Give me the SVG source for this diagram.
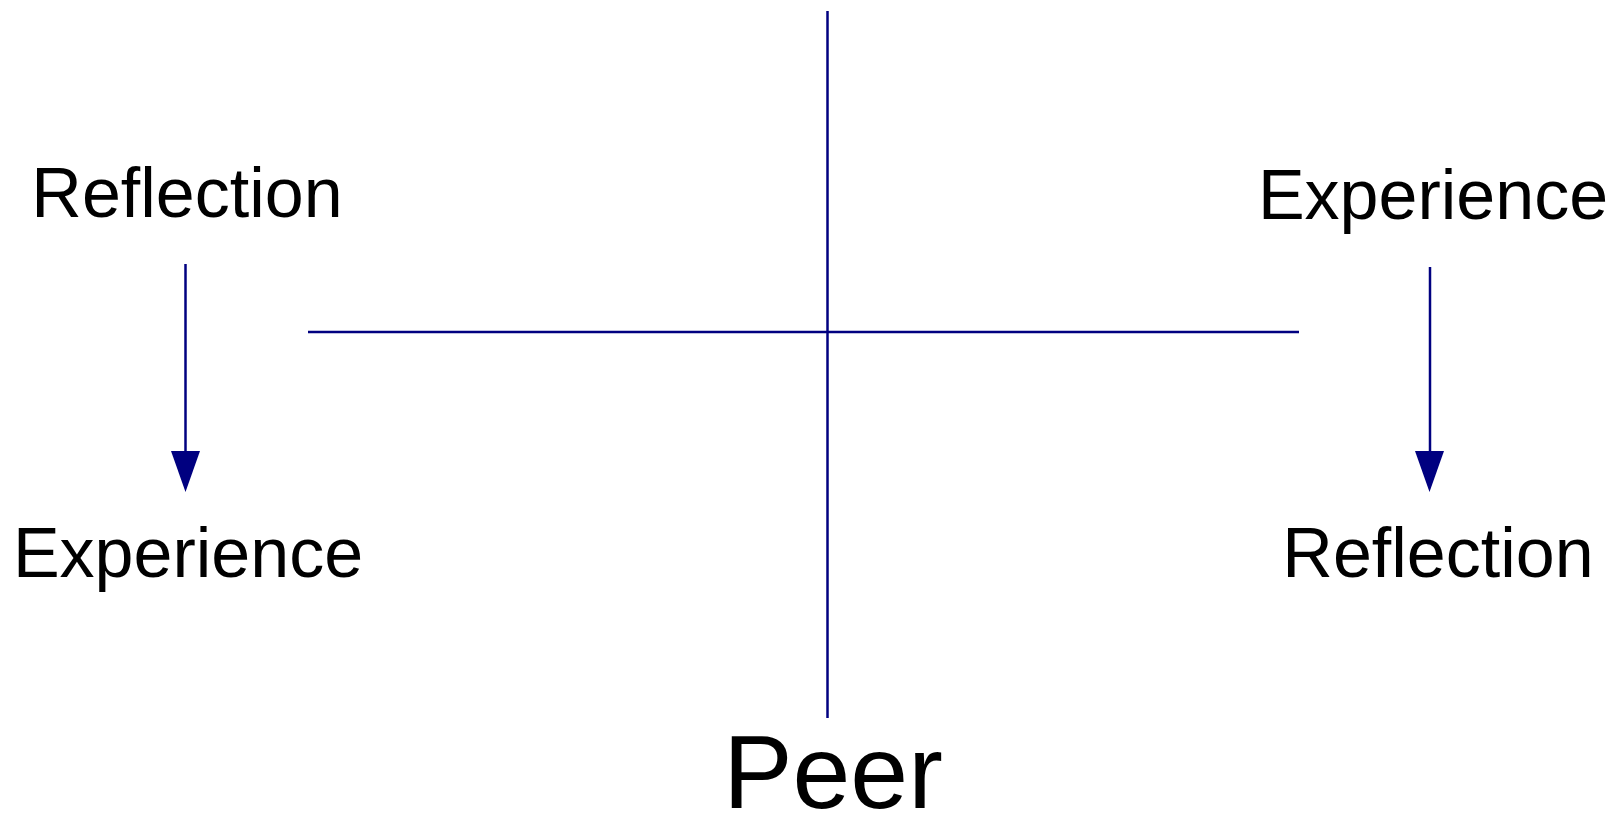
<svg xmlns="http://www.w3.org/2000/svg" width="1620" height="820" viewBox="0 0 1620 820">
<style>
.lbl{font-family:"Liberation Sans",Arial,sans-serif;font-size:70px;fill:#000;text-anchor:middle}
.big{font-size:104px}
.ln{stroke:#000080;stroke-width:2.5;fill:none}
</style>
<rect width="1620" height="820" fill="#fff"/>
<g id="connectors">
<line class="ln" x1="827.5" y1="11" x2="827.5" y2="718"/>
<line class="ln" x1="308" y1="332" x2="1299" y2="332"/>
<line class="ln" x1="185.5" y1="264" x2="185.5" y2="451"/>
<path d="M171,451 L200,451 L185.5,492 Z" fill="#000080"/>
<line class="ln" x1="1430" y1="267" x2="1430" y2="451"/>
<path d="M1415,451 L1444,451 L1429.5,492 Z" fill="#000080"/>
</g>
<g id="reflection-left"><text class="lbl" x="187" y="217">Reflection</text></g>
<g id="experience-left"><text class="lbl" x="188" y="577">Experience</text></g>
<g id="experience-right"><text class="lbl" x="1433" y="219">Experience</text></g>
<g id="reflection-right"><text class="lbl" x="1438" y="577">Reflection</text></g>
<g id="peer"><text class="lbl big" x="833" y="808">Peer</text></g>
</svg>
